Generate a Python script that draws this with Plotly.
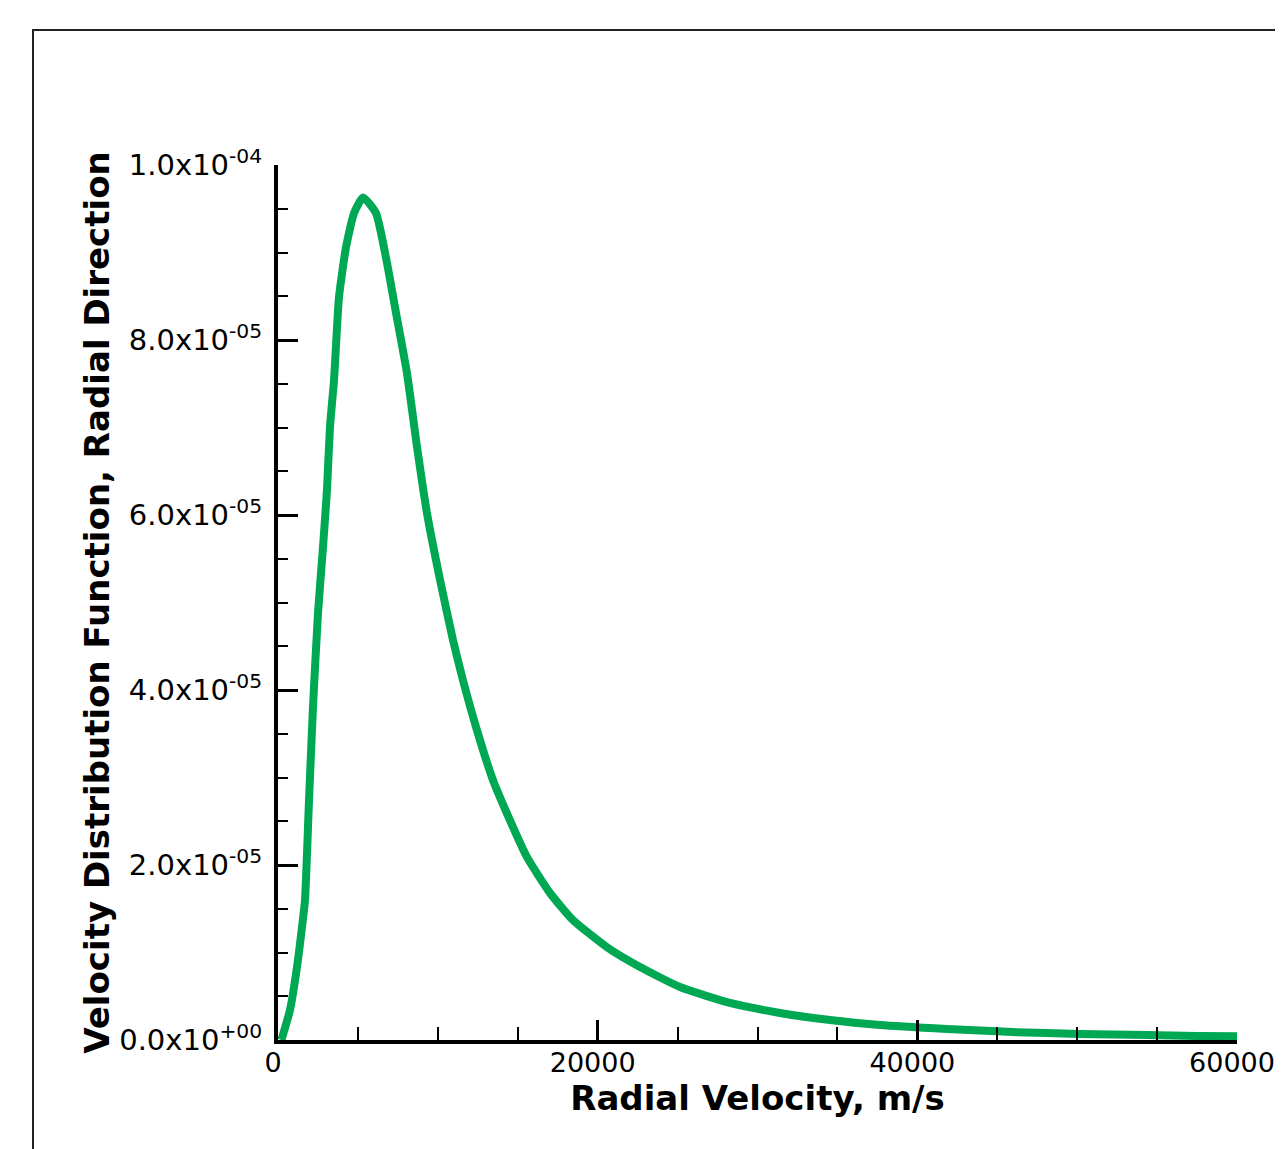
import plotly.graph_objects as go

# courbe : vitesse radiale (m/s) et fonction de distribution
VELOCITY = [200, 250, 751, 1189, 1502, 1689, 1940, 2190, 2503, 2815, 3066, 3253, 3504,
            3816, 4254, 4755, 5318, 6131, 6820, 7383, 8071, 8697, 9322, 10136, 10949,
            11575, 12450, 13451, 14515, 15579, 17018, 18457, 20584, 22649, 25152, 28279,
            31408, 34536, 37664, 41856, 45985, 50177, 54369, 57498, 60000]
VDF = [0.0, 2.3e-7, 3.43e-6, 8.34e-6, 1.29e-5, 1.60e-5, 2.74e-5, 3.81e-5, 4.88e-5, 5.63e-5,
       6.29e-5, 7.01e-5, 7.54e-5, 8.49e-5, 9.06e-5, 9.45e-5, 9.63e-5, 9.45e-5, 8.88e-5,
       8.31e-5, 7.62e-5, 6.78e-5, 6.02e-5, 5.26e-5, 4.57e-5, 4.11e-5, 3.54e-5, 2.97e-5,
       2.51e-5, 2.09e-5, 1.68e-5, 1.37e-5, 1.06e-5, 8.34e-6, 6.06e-6, 4.23e-6, 3.09e-6,
       2.29e-6, 1.71e-6, 1.26e-6, 9.1e-7, 6.9e-7, 5.7e-7, 4.6e-7, 4.3e-7]

X_TICKS = [0, 20000, 40000, 60000]
X_TICK_TEXT = ["0", "20000", "40000", "60000"]
Y_TICKS = [0.0, 2e-5, 4e-5, 6e-5, 8e-5, 1e-4]
Y_TICK_TEXT = ["0.0x10<sup>+00</sup>", "2.0x10<sup>-05</sup>", "4.0x10<sup>-05</sup>",
               "6.0x10<sup>-05</sup>", "8.0x10<sup>-05</sup>", "1.0x10<sup>-04</sup>"]

LINE_COLOR = "#00a854"
FONT = "DejaVu Sans"

# la page ajoute 8 px de marge autour de la figure
W, H = 1275, 1141
L, R, T, B = 270, 46, 157, 109

fig = go.Figure()
fig.add_trace(go.Scatter(
    x=VELOCITY, y=VDF, mode="lines",
    line=dict(color=LINE_COLOR, width=8, shape="spline", smoothing=0.5),
    showlegend=False,
))

axis_common = dict(
    showgrid=False, zeroline=False, showline=True, linecolor="black", linewidth=4,
    ticks="inside", tickcolor="black", tickwidth=3, ticklen=20,
    tickfont=dict(family=FONT, size=29, color="black"),
    title_font=dict(family=FONT, size=34, color="black"),
    ticklabeloverflow="allow",
)

fig.update_xaxes(
    **axis_common, range=[0, 60000], tickvals=X_TICKS, ticktext=X_TICK_TEXT,
    minor=dict(dtick=5000, ticks="inside", ticklen=13, tickwidth=1.5, tickcolor="black"),
    ticklabelstandoff=-4, ticklabelshift=-5,
    title_text="<b>Radial Velocity, m/s</b>", title_standoff=4,
)
fig.update_xaxes(tickfont_size=27)
fig.update_yaxes(
    **axis_common, range=[0, 1e-4], tickvals=Y_TICKS, ticktext=Y_TICK_TEXT,
    minor=dict(dtick=5e-6, ticks="inside", ticklen=10, tickwidth=1.5, tickcolor="black"),
    ticklabelstandoff=6,
    title_text="<b>Velocity Distribution Function, Radial Direction</b>", title_standoff=0,
)

# cadre autour de la figure
fig.add_shape(type="rect", xref="paper", yref="paper",
              x0=(25 - L) / (W - L - R), x1=1.2,
              y0=-0.3, y1=(H - B - 22) / (H - T - B),
              line=dict(color="#222222", width=2), fillcolor="rgba(0,0,0,0)", layer="below")

fig.update_layout(
    width=W, height=H,
    margin=dict(l=L, r=R, t=T, b=B, autoexpand=False),
    plot_bgcolor="white", paper_bgcolor="white",
    font=dict(family=FONT, color="black"),
)

fig.write_html("out.html")
